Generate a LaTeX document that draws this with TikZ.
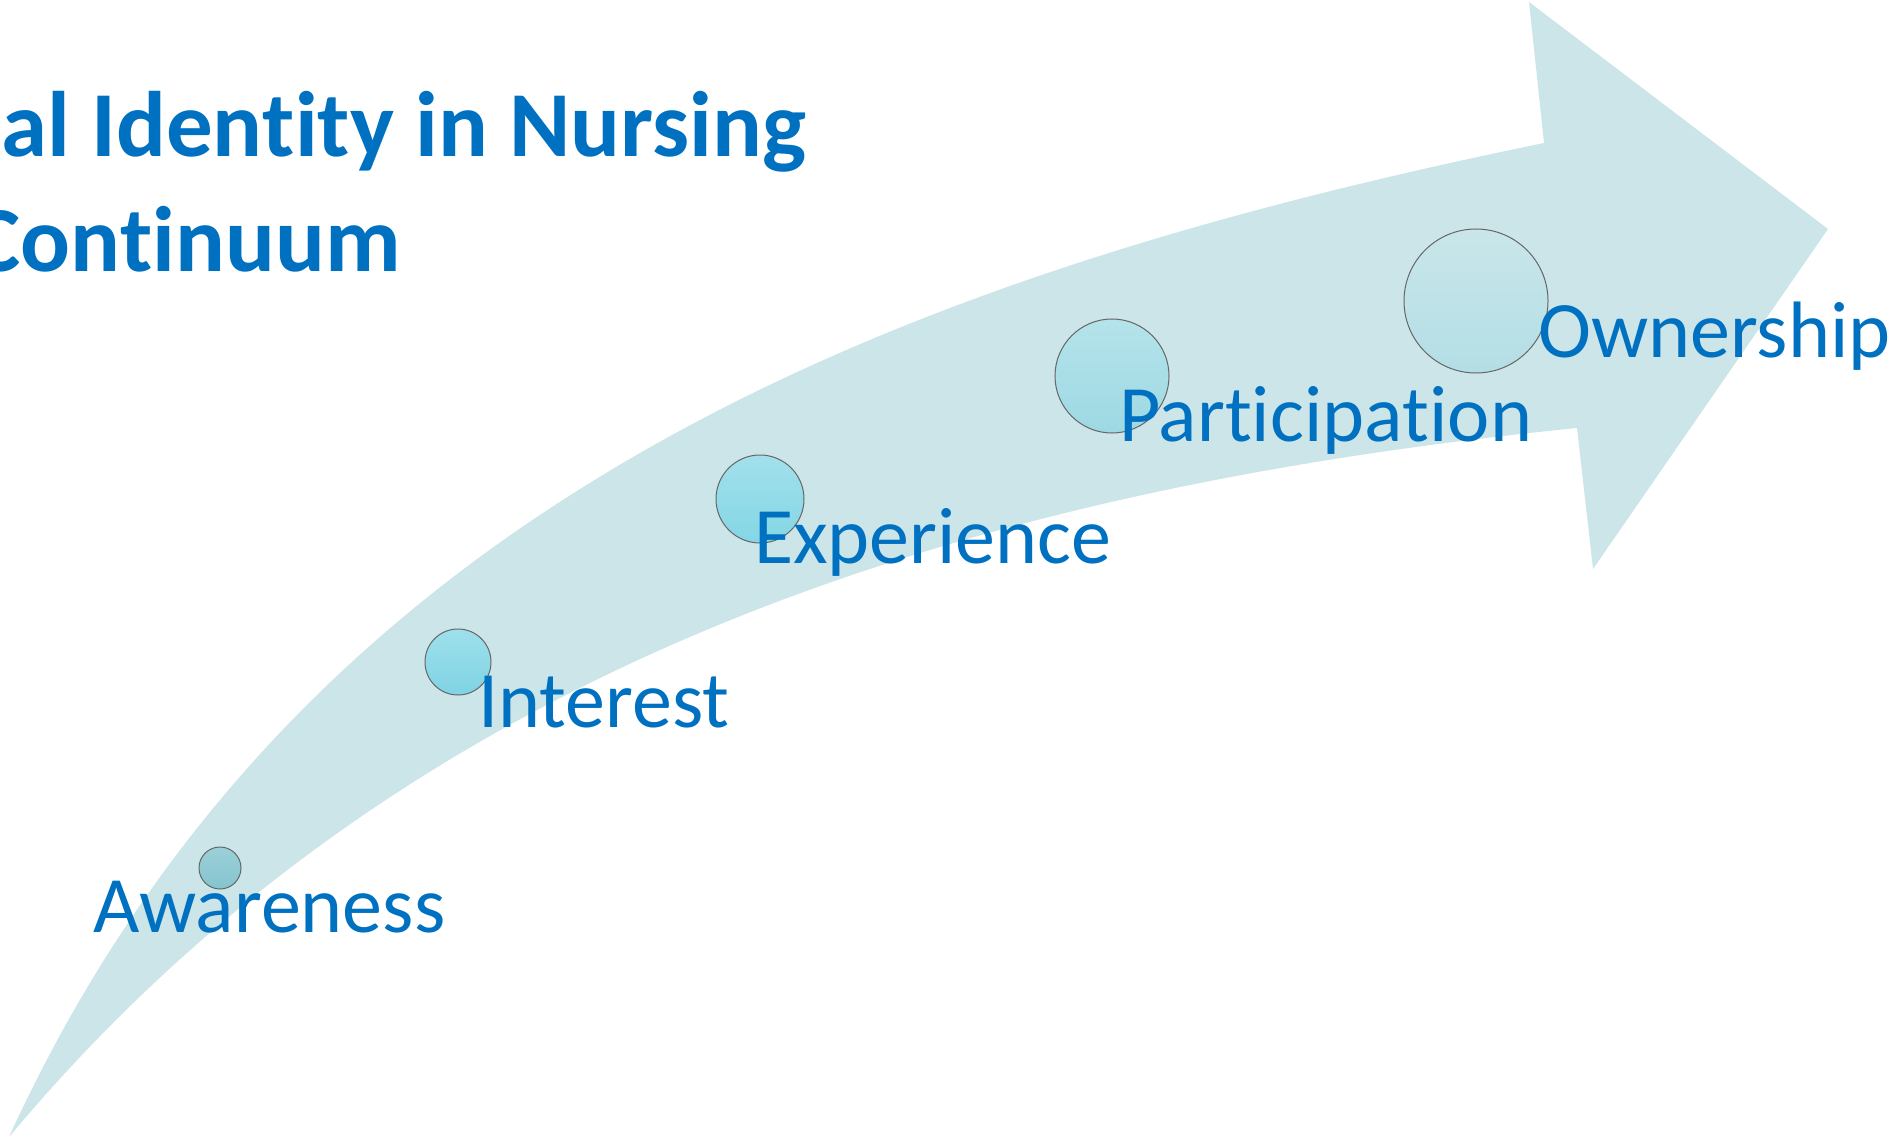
\documentclass[tikz,border=0pt]{standalone}
\usepackage{fontspec}
\setmainfont{Carlito}[Ligatures=NoCommon, Contextuals=NoAlternate, RawFeature={-clig}]
\definecolor{arrowfill}{HTML}{CCE5E9}
\definecolor{txtblue}{HTML}{0070C0}
\definecolor{ringgray}{HTML}{666666}
\definecolor{aT}{HTML}{9CD0D8}\definecolor{aB}{HTML}{84C4CE}
\definecolor{iT}{HTML}{9EE0EC}\definecolor{iB}{HTML}{7FD3E3}
\definecolor{eT}{HTML}{A2E0EB}\definecolor{eB}{HTML}{84D6E5}
\definecolor{pT}{HTML}{B5E3EA}\definecolor{pB}{HTML}{9DD9E3}
\definecolor{oT}{HTML}{C9E6EA}\definecolor{oB}{HTML}{B3DEE5}
\begin{document}
\begin{tikzpicture}[x=1pt,y=-1pt,
  stage/.style={circle, inner sep=0pt, draw=ringgray, line width=1pt},
  lbl/.style={anchor=base west, inner sep=0pt, text=txtblue, font=\fontsize{80}{80}\selectfont},
  ttl/.style={anchor=base east, inner sep=0pt, text=txtblue, font=\fontsize{93}{93}\selectfont\bfseries}]
\useasboundingbox (0,0) rectangle (1895,1139);
\clip (0,0) rectangle (1895,1139);
% curved arrow
\coordinate (tail) at (9,1137);
\coordinate (ui) at (1544,143);
\coordinate (ub) at (1529,2);
\coordinate (tip) at (1828,229);
\coordinate (lb) at (1593,569);
\coordinate (li) at (1577,428);
\fill[arrowfill] (tail) .. controls (300,500) and (900,275) .. (ui)
  -- (ub) -- (tip) -- (lb) -- (li)
  .. controls (977,488) and (410,657) .. (tail) -- cycle;
% title
\node[ttl] (title1) at (806,157) {al Iden\kern0pt tity in Nursing};
\node[ttl] (title2) at (401,272) {Con\kern0pt tinuum};
% circles
\node[stage, minimum size=42pt, top color=aT, bottom color=aB] (c1) at (220,868) {};
\node[stage, minimum size=66pt, top color=iT, bottom color=iB] (c2) at (458,662) {};
\node[stage, minimum size=88pt, top color=eT, bottom color=eB] (c3) at (760,499) {};
\node[stage, minimum size=114pt, top color=pT, bottom color=pB] (c4) at (1112,376) {};
\node[stage, minimum size=144pt, top color=oT, bottom color=oB] (c5) at (1476,301) {};
% labels
\node[lbl] (l1) at (93,932) {Awareness};
\node[lbl] (l2) at (478,727) {Interest};
\node[lbl] (l3) at (754,563) {Experience};
\node[lbl] (l4) at (1119,441) {Partici\kern0pt pa\kern0pt tion};
\node[lbl] (l5) at (1538,358) {Ownership};
\end{tikzpicture}
\end{document}
